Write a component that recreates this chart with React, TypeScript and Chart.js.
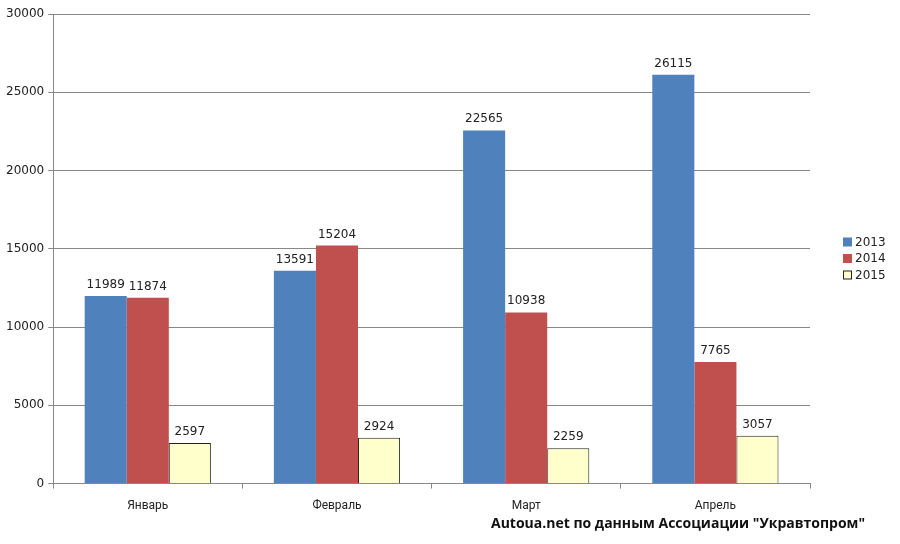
import React, { useEffect, useRef } from "react";
import { Chart, registerables } from "chart.js";

Chart.register(...registerables);

const categories = ["Январь", "Февраль", "Март", "Апрель"];
const years = ["2013", "2014", "2015"];
const values2013 = [11989, 13591, 22565, 26115];
const values2014 = [11874, 15204, 10938, 7765];
const values2015 = [2597, 2924, 2259, 3057];
const yTicks = [0, 5000, 10000, 15000, 20000, 25000, 30000];
const sourceText = 'Autoua.net по данным Ассоциации "Укравтопром"';

const valueLabels = {
  id: "valueLabels",
  afterDatasetsDraw(chart: any) {
    const ctx = chart.ctx;
    ctx.save();
    ctx.font = "12px 'DejaVu Sans'";
    ctx.fillStyle = "#222";
    ctx.textAlign = "center";
    ctx.textBaseline = "alphabetic";
    chart.data.datasets.forEach((ds: any, i: number) => {
      const meta = chart.getDatasetMeta(i);
      meta.data.forEach((bar: any, j: number) => {
        ctx.fillText(String(ds.data[j]), bar.x, bar.y - 8);
      });
    });
    ctx.restore();
  },
};

const sideLegend = {
  id: "sideLegend",
  afterDraw(chart: any) {
    const ctx = chart.ctx;
    const area = chart.chartArea;
    ctx.save();
    const x = area.right + 33;
    const y0 = 242;
    const step = 16.5;
    ctx.font = "12px 'DejaVu Sans'";
    ctx.textBaseline = "middle";
    ctx.textAlign = "left";
    chart.data.datasets.forEach((ds: any, i: number) => {
      const y = y0 + i * step;
      ctx.fillStyle = ds.backgroundColor;
      ctx.fillRect(x, y - 4.5, 9, 9);
      if (ds.borderWidth) {
        ctx.strokeStyle = ds.borderColor;
        ctx.lineWidth = 1;
        ctx.strokeRect(x + 0.5, y - 4, 8, 8);
      }
      ctx.fillStyle = "#222";
      ctx.fillText(ds.label, x + 12, y + 0.5);
    });
    ctx.font = "bold 14px 'Open Sans'";
    ctx.fillStyle = "#111";
    ctx.textAlign = "right";
    ctx.textBaseline = "middle";
    ctx.fillText(sourceText, 865, 524);
    ctx.restore();
  },
};

export default function App() {
  const ref = useRef<HTMLCanvasElement>(null);
  useEffect(() => {
    document.body.style.margin = "0";
    const chart = new Chart(ref.current!, {
      type: "bar",
      data: {
        labels: categories,
        datasets: [
          { label: years[0], data: values2013, backgroundColor: "#4F81BD", borderWidth: 0 },
          { label: years[1], data: values2014, backgroundColor: "#C0504D", borderWidth: 0 },
          { label: years[2], data: values2015, backgroundColor: "#FFFFCC", borderColor: "#222", borderWidth: 1 },
        ],
      },
      options: {
        animation: false,
        responsive: false,
        maintainAspectRatio: false,
        datasets: { bar: { categoryPercentage: 0.667, barPercentage: 1 } } as any,
        layout: { padding: { top: 14, left: 2, right: 90, bottom: 21 } },
        plugins: {
          tooltip: { enabled: false },
          legend: { display: false },
        },
        scales: {
          x: {
            grid: { drawOnChartArea: false, drawTicks: true, tickLength: 5, color: "#888", offset: true },
            border: { display: true, color: "#888" },
            ticks: { color: "#222", font: { family: "Roboto", size: 12 }, padding: 10 },
          },
          y: {
            min: 0,
            max: 30000,
            afterBuildTicks: (axis: any) => {
              axis.ticks = yTicks.map((v) => ({ value: v }));
            },
            grid: { color: "#888", tickLength: 5 },
            border: { display: true, color: "#888" },
            ticks: {
              color: "#222",
              font: { family: "'DejaVu Sans'", size: 12 },
              padding: 4,
              callback: (v: any) => String(v),
            },
          },
        },
      },
      plugins: [valueLabels, sideLegend],
    });
    return () => chart.destroy();
  }, []);
  return (
    <div style={{ width: 900, height: 544, background: "#fff" }}>
      <canvas ref={ref} width={900} height={544} />
    </div>
  );
}
